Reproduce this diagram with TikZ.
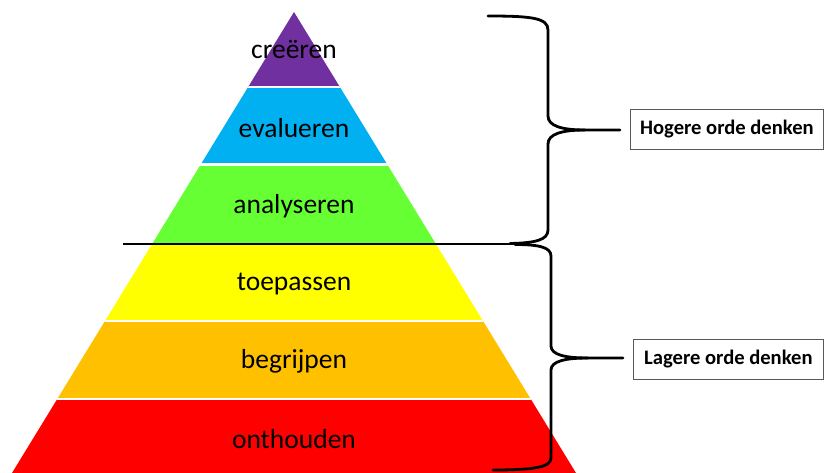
\documentclass[tikz,border=0pt]{standalone}
\usepackage{fontspec}
\setmainfont{Carlito}
\definecolor{cpurple}{HTML}{7030A0}
\definecolor{ccyan}{HTML}{00B0F0}
\definecolor{cgreen}{HTML}{66FF33}
\definecolor{cyellow}{HTML}{FFFF00}
\definecolor{corange}{HTML}{FFC000}
\definecolor{cred}{HTML}{FF0000}
\begin{document}
\begin{tikzpicture}[x=1pt,y=-1pt,
  lvl/.style={font=\fontsize{27.5}{30}\selectfont, text=black, anchor=center},
  orderbox/.style={draw=black!65, line width=0.8pt, font=\bfseries\fontsize{20.6}{22}\selectfont, inner sep=0pt, minimum height=40pt, anchor=west},
  brace/.style={line width=2.8pt, black, line cap=round, line join=round}]
\useasboundingbox (0,0) rectangle (824,473);
\begin{scope}
  \clip (294,12) -- (576,473) -- (12,473) -- cycle;
  \fill[cpurple] (0,0) rectangle (824,87);
  \fill[ccyan] (0,87) rectangle (824,164.5);
  \fill[cgreen] (0,164.5) rectangle (824,243);
  \fill[cyellow] (0,243) rectangle (824,321);
  \fill[corange] (0,321) rectangle (824,399);
  \fill[cred] (0,399) rectangle (824,480);
  \foreach \yy in {87,164.5,321,399} \draw[white, line width=2.5pt] (0,\yy) -- (824,\yy);
\end{scope}
\node[lvl] (creeren) at (294,49) {creëren};
\node[lvl] (evalueren) at (294,128) {evalueren};
\node[lvl] (analyseren) at (294,206) {analyseren};
\node[lvl] (toepassen) at (294,284) {toepassen};
\node[lvl] (begrijpen) at (294,361) {begrijpen};
\node[lvl] (onthouden) at (294,439) {onthouden};
% boxes
\node[orderbox, minimum width=193pt] (hogere) at (630,129) {Hogere orde denken};
\node[orderbox, minimum width=190pt] (lagere) at (633,359.5) {Lagere orde denken};
% dividing line
\coordinate (lineL) at (123,244);
\coordinate (lineR) at (530,244);
\draw[line width=2.4pt] (lineL) -- (lineR);
% upper brace
\coordinate (utip) at (620,130);
\draw[brace] (488,16) .. controls (532,16) and (548,18) .. (548,30) -- (548,116)
  .. controls (548,126) and (562,130) .. (585,130) -- (utip);
\draw[brace] (585,130) .. controls (562,130) and (548,134) .. (548,144) -- (548,230)
  .. controls (548,240) and (535,243) .. (510,243.5);
% lower brace
\coordinate (ltip) at (623,358);
\draw[brace] (515,244.5) .. controls (538,244.5) and (551,247) .. (551,256) -- (551,346)
  .. controls (551,355) and (566,358) .. (588,358) -- (ltip);
\draw[brace] (588,358) .. controls (566,358) and (551,361) .. (551,370) -- (551,458)
  .. controls (551,467) and (535,470) .. (493,470);
\end{tikzpicture}
\end{document}
